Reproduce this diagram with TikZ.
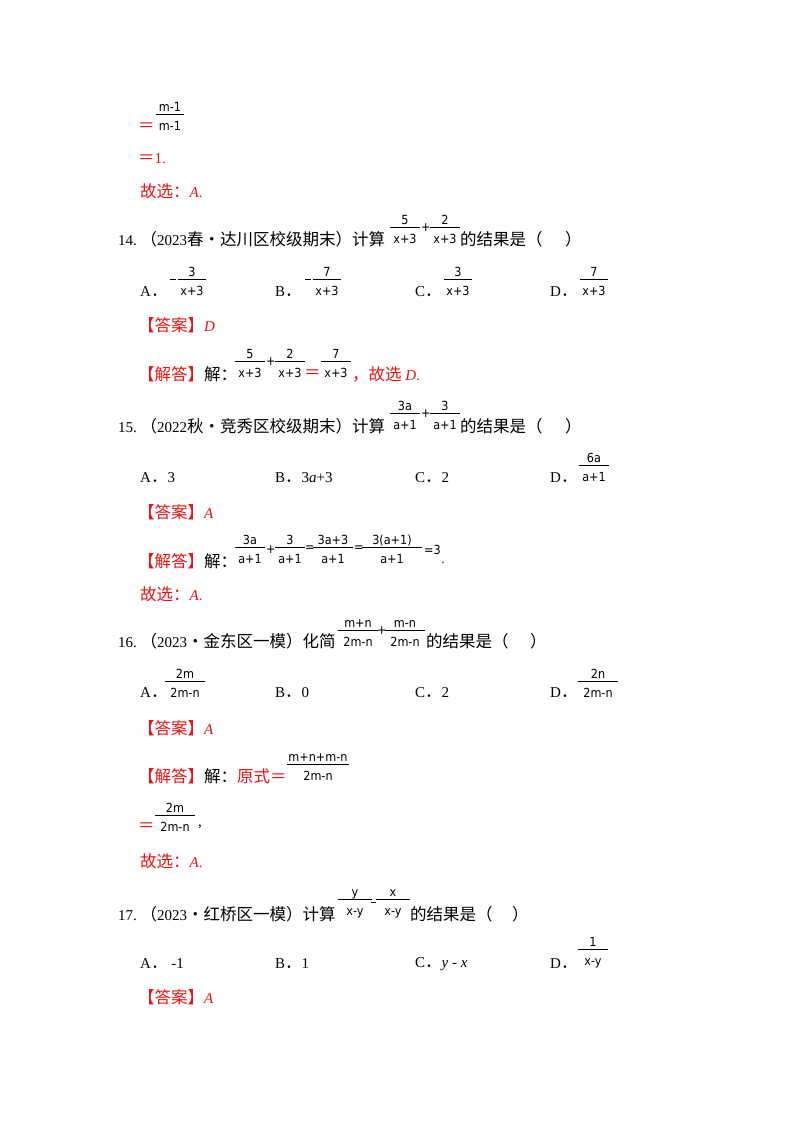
\documentclass[tikz,border=0pt]{standalone}
\usepackage{fontspec}
\setmainfont{Liberation Serif}
\newfontfamily\cjkf{Noto Sans CJK SC}
\newfontfamily\frf{DejaVu Sans Condensed}
\definecolor{ans}{RGB}{232,20,20}
\newcommand\ft{\fontsize{15}{17}\selectfont}
\newcommand\cjk{\cjkf\fontsize{16.5}{18}\selectfont}
\newcommand\ff{\frf\fontsize{12.5}{14}\selectfont}
% \fr{cx}{bary}{halfwidth}{num}{den}
\newcommand\fr[5]{%
  \draw[line width=0.8pt] (#1-#3,#2) -- (#1+#3,#2);
  \node[anchor=base,inner sep=0,font=\ff] at (#1,#2-3) {#4};
  \node[anchor=base,inner sep=0,font=\ff] at (#1,#2+16) {#5};}
\begin{document}
\begin{tikzpicture}[x=1pt,y=-1pt,
  t/.style={anchor=west,inner sep=0,font=\ft},
  r/.style={t,text=ans}]
\useasboundingbox[fill=white] (0,0) rectangle (800,1132);
% top
\fr{170}{114}{14}{m-1}{m-1}
\node[r] at (138,127) {{\cjk ＝}};
\node[r] at (138,159) {{\cjk ＝}1.};
\node[r] at (140,191) {{\cjk 故选：}\textit{A}.};
% Q14
\node[t] at (118,239) {14.\ {\cjk （}2023{\cjk 春•达川区校级期末）计算}};
\fr{405}{227}{15}{5}{x+3}
\node[t,font=\ff] at (421,228) {+};
\fr{445}{227}{15}{2}{x+3}
\node[t] at (460,239) {{\cjk 的结果是（}};
\node[t] at (565,239) {{\cjk ）}};
\node[t] at (140,292) {A{\cjk ．}};
\draw[line width=0.6pt] (170,279) -- (176,279);
\fr{192}{279}{14}{3}{x+3}
\node[t] at (275,292) {B{\cjk ．}};
\draw[line width=0.6pt] (305,279) -- (311,279);
\fr{327}{279}{14}{7}{x+3}
\node[t] at (415,292) {C{\cjk ．}};
\fr{458}{279}{14}{3}{x+3}
\node[t] at (550,292) {D{\cjk ．}};
\fr{594}{279}{14}{7}{x+3}
\node[r] at (138,325) {{\cjk 【答案】}\textit{D}};
\node[r] at (138,374) {{\cjk 【解答】}{\color{black}\cjk 解：}};
\fr{250}{361}{15}{5}{x+3}
\node[t,font=\ff] at (266,362) {+};
\fr{290}{361}{15}{2}{x+3}
\node[r] at (304,374) {{\cjk ＝}};
\fr{336}{361}{15}{7}{x+3}
\node[r] at (352,374) {{\cjk ，故选} \textit{D}.};
% Q15
\node[t] at (118,426) {15.\ {\cjk （}2022{\cjk 秋•竞秀区校级期末）计算}};
\fr{405}{413}{15}{3a}{a+1}
\node[t,font=\ff] at (421,414) {+};
\fr{445}{413}{15}{3}{a+1}
\node[t] at (460,426) {{\cjk 的结果是（}};
\node[t] at (565,426) {{\cjk ）}};
\node[t] at (140,478) {A{\cjk ．}3};
\node[t] at (275,478) {B{\cjk ．}3\textit{a}+3};
\node[t] at (415,478) {C{\cjk ．}2};
\node[t] at (550,478) {D{\cjk ．}};
\fr{594}{465}{15}{6a}{a+1}
\node[r] at (138,512) {{\cjk 【答案】}\textit{A}};
\node[r] at (138,561) {{\cjk 【解答】}{\color{black}\cjk 解：}};
\fr{250}{547}{15}{3a}{a+1}
\node[t,font=\ff] at (266,550) {+};
\fr{290}{547}{15}{3}{a+1}
\node[t,font=\ff] at (305,549) {=};
\fr{333}{547}{20}{3a+3}{a+1}
\node[t,font=\ff] at (354,549) {=};
\fr{392}{547}{30}{3(a+1)}{a+1}
\node[t,font=\ff] at (424,550) {=3};
\node[r] at (441,563) {.};
\node[r] at (140,594) {{\cjk 故选：}\textit{A}.};
% Q16
\node[t] at (118,641) {16.\ {\cjk （}2023{\cjk •金东区一模）化简}};
\fr{358}{630}{20}{m+n}{2m-n}
\node[t,font=\ff] at (377,631) {+};
\fr{405}{630}{20}{m-n}{2m-n}
\node[t] at (426,641) {{\cjk 的结果是（}};
\node[t] at (530,641) {{\cjk ）}};
\node[t] at (140,693) {A{\cjk ．}};
\fr{185}{681}{20}{2m}{2m-n}
\node[t] at (275,693) {B{\cjk ．}0};
\node[t] at (415,693) {C{\cjk ．}2};
\node[t] at (550,693) {D{\cjk ．}};
\fr{598}{681}{20}{2n}{2m-n}
\node[r] at (138,728) {{\cjk 【答案】}\textit{A}};
\node[r] at (138,776) {{\cjk 【解答】}{\color{black}\cjk 解：}{\cjk 原式＝}};
\fr{318}{764}{31}{m+n+m-n}{2m-n}
\fr{175}{815}{20}{2m}{2m-n}
\node[r] at (138,827) {{\cjk ＝}};
\node[t] at (198,827) {,};
\node[r] at (140,861) {{\cjk 故选：}\textit{A}.};
% Q17
\node[t] at (118,914) {17.\ {\cjk （}2023{\cjk •红桥区一模）计算}};
\fr{355}{899}{17}{y}{x-y}
\draw[line width=0.6pt] (371,902) -- (376,902);
\fr{393}{899}{17}{x}{x-y}
\node[t] at (410,914) {{\cjk 的结果是（}};
\node[t] at (512,914) {{\cjk ）}};
\node[t] at (140,964) {A{\cjk ．}\ -1};
\node[t] at (275,964) {B{\cjk ．}1};
\node[t] at (415,964) {C{\cjk ．}\textit{y} - \textit{x}};
\node[t] at (550,964) {D{\cjk ．}};
\fr{593}{949}{15}{1}{x-y}
\node[r] at (138,997) {{\cjk 【答案】}\textit{A}};
\end{tikzpicture}
\end{document}
